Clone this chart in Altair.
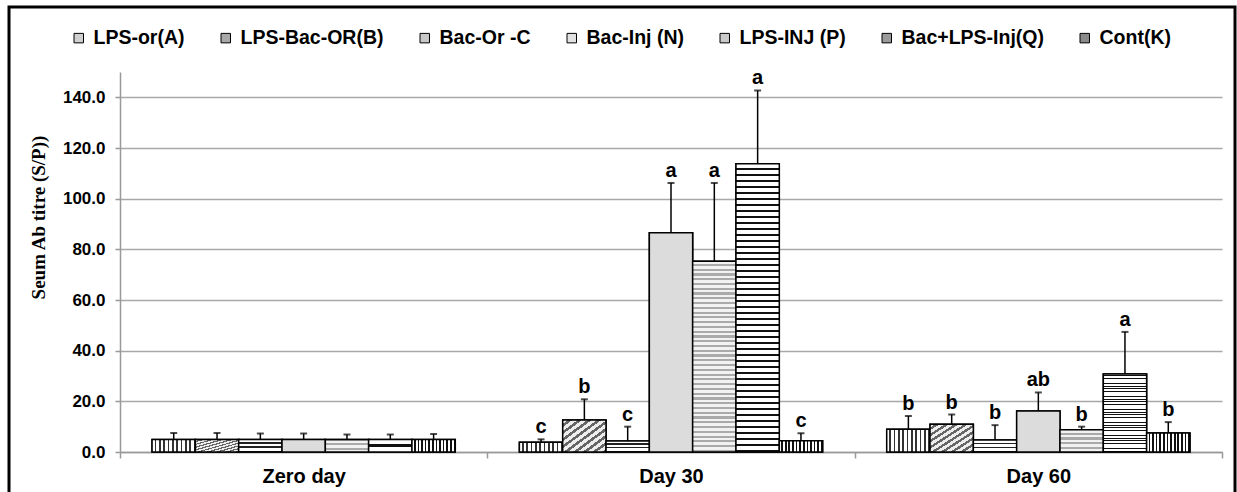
import altair as alt
import pandas as pd

GROUPS = ["Zero day", "Day 30", "Day 60"]
SERIES = ["LPS-or(A)", "LPS-Bac-OR(B)", "Bac-Or -C", "Bac-Inj (N)",
          "LPS-INJ (P)", "Bac+LPS-Inj(Q)", "Cont(K)"]

ZERO_MEAN = [4.9, 4.9, 4.9, 4.9, 4.9, 4.9, 4.9]
ZERO_ERR = [2.6, 2.6, 2.4, 2.4, 2.0, 2.0, 2.2]
ZERO_LET = ["", "", "", "", "", "", ""]

D30_MEAN = [3.8, 12.6, 4.3, 86.5, 75.3, 113.8, 4.4]
D30_ERR = [1.2, 8.2, 5.7, 19.7, 30.9, 28.9, 3.0]
D30_LET = ["c", "b", "c", "a", "a", "a", "c"]

D60_MEAN = [9.0, 11.0, 4.7, 16.2, 8.8, 30.8, 7.5]
D60_ERR = [5.2, 3.8, 5.9, 7.3, 1.2, 16.6, 4.3]
D60_LET = ["b", "b", "b", "ab", "b", "a", "b"]

Y_TICKS = [0, 20, 40, 60, 80, 100, 120, 140]

rows = []
for g, means, errs, lets in [(GROUPS[0], ZERO_MEAN, ZERO_ERR, ZERO_LET),
                             (GROUPS[1], D30_MEAN, D30_ERR, D30_LET),
                             (GROUPS[2], D60_MEAN, D60_ERR, D60_LET)]:
    for s, m, e, l in zip(SERIES, means, errs, lets):
        rows.append({"group": g, "series": s, "mean": m, "top": m + e, "letter": l})
df = pd.DataFrame(rows)

LEGEND_FILLS = ["#d0d0d0", "#a8a8a8", "#c8c8c8", "#e2e2e2", "#cacaca", "#9a9a9a", "#8a8a8a"]


def stripes(n, ink, paper, frac, x2, y2):
    stops = []
    for i in range(n):
        a = round(i / n, 5)
        m = round((i + 1 - frac) / n, 5)
        b = round((i + 1) / n, 5)
        stops += [alt.GradientStop(color=paper, offset=a),
                  alt.GradientStop(color=paper, offset=m),
                  alt.GradientStop(color=ink, offset=m),
                  alt.GradientStop(color=ink, offset=b)]
    return alt.Gradient(gradient="linear", stops=stops, x1=0, y1=0, x2=x2, y2=y2)


PATTERNS = [
    stripes(10, "#333333", "#ffffff", 0.4, 1, 0),     # A vertical lines
    stripes(9, "#666666", "#eeeeee", 0.45, 1, 1),     # B diagonal hatch
    stripes(3, "#222222", "#ffffff", 0.35, 0, 1),     # C brick-like
    "#dcdcdc",                                         # N fine dots
    stripes(40, "#aaaaaa", "#f2f2f2", 0.45, 0, 1),    # P waves
    stripes(48, "#111111", "#ffffff", 0.35, 0, 1),    # Q horizontal lines
    stripes(12, "#111111", "#ffffff", 0.45, 1, 0),    # K vertical lines
]

FONT = "Liberation Sans"

x_enc = alt.X("group:N", sort=GROUPS, title=None,
              scale=alt.Scale(domain=GROUPS, paddingInner=0, paddingOuter=0),
              axis=alt.Axis(tickBand="extent", labelFontSize=20, labelFont=FONT,
                            labelFontWeight="bold", labelColor="black", labelPadding=8,
                            tickSize=6, tickColor="#999999", domainColor="#999999",
                            domainWidth=1.5, tickWidth=1.5, labelAngle=0))
xo_enc = alt.XOffset("series:N", sort=SERIES,
                     scale=alt.Scale(domain=SERIES, paddingInner=0, paddingOuter=0.74))
y_enc = alt.Y("mean:Q", title="Seum Ab titre  (S/P))",
              scale=alt.Scale(domain=[0, 150], nice=False),
              axis=alt.Axis(values=Y_TICKS, format=".1f", labelFontSize=17, labelFont=FONT,
                            labelFontWeight="bold", labelColor="black", labelPadding=10,
                            tickSize=5, tickColor="#999999", domainColor="#999999",
                            domainWidth=1.5, tickWidth=1.5,
                            grid=True, gridColor="#a8a8a8", gridWidth=1.5,
                            titleFont="Liberation Serif", titleFontSize=19,
                            titleFontWeight="bold", titleColor="black",
                            titleAngle=-90, titleX=-82, titleY=145,
                            titleAlign="center", titleBaseline="middle"))

base = alt.Chart(df).mark_bar(stroke="black", strokeWidth=1.5).encode(
    x=x_enc, xOffset=xo_enc, y=y_enc,
    color=alt.Color("series:N", sort=SERIES,
                    scale=alt.Scale(domain=SERIES, range=LEGEND_FILLS),
                    legend=alt.Legend(title=None, orient="none", direction="horizontal",
                                      columns=7, legendX=-51, legendY=-44,
                                      symbolType="square", symbolSize=90,
                                      symbolStrokeColor="black", symbolStrokeWidth=1,
                                      labelFont=FONT, labelFontSize=19.5,
                                      labelFontWeight="bold", labelColor="black",
                                      labelLimit=400, labelOffset=5,
                                      columnPadding=31, padding=0)),
)

layers = [base]
for s, pat in zip(SERIES, PATTERNS):
    layers.append(
        alt.Chart(df).transform_filter(alt.datum.series == s)
        .mark_bar(fill=pat, stroke="black", strokeWidth=1.5)
        .encode(x=x_enc, xOffset=xo_enc, y=y_enc)
    )

err_rule = alt.Chart(df).mark_rule(color="black", strokeWidth=1.5).encode(
    x=x_enc, xOffset=xo_enc, y=alt.Y("mean:Q"), y2=alt.Y2("top:Q"))
err_cap = alt.Chart(df).mark_tick(color="black", size=7, thickness=2).encode(
    x=x_enc, xOffset=xo_enc, y=alt.Y("top:Q"))
letters = alt.Chart(df).mark_text(font=FONT, fontSize=20, fontWeight="bold",
                                  color="black", baseline="alphabetic", dy=-6).encode(
    x=x_enc, xOffset=xo_enc, y=alt.Y("top:Q"), text="letter:N")

frame = alt.Chart(pd.DataFrame({"k": [0]})).mark_rect(
    fill="transparent", stroke="black", strokeWidth=3).encode(
    x=alt.value(-111), x2=alt.value(1115), y=alt.value(-65), y2=alt.value(440))

chart = alt.layer(*layers, err_rule, err_cap, letters, frame).properties(
    width=1102, height=380,
    autosize=alt.AutoSizeParams(type="none"),
    padding={"left": 120, "top": 72, "right": 15, "bottom": 40},
    background="white",
).configure_view(stroke="transparent")

chart.save("out.html", embed_options={"renderer": "svg", "actions": False})
